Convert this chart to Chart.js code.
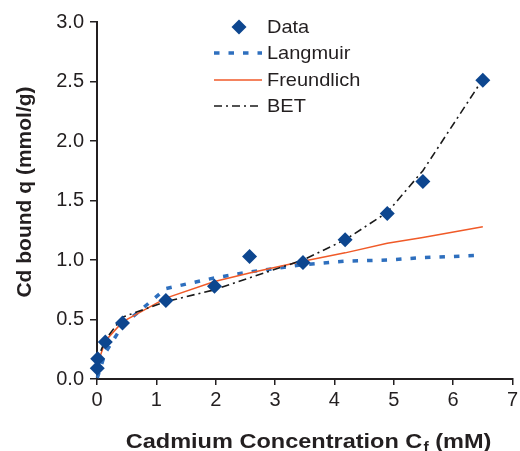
<!DOCTYPE html>
<html>
<head>
<meta charset="utf-8">
<script src="https://cdn.jsdelivr.net/npm/chart.js@4.4.1/dist/chart.umd.min.js"></script>
<style>
  html, body { margin: 0; padding: 0; background: #fff; }
  #wrap { width: 520px; height: 451px; position: relative; }
</style>
</head>
<body>
<div id="wrap"><canvas id="chart"></canvas></div>
<script>
// concentration Cf (mM) for each measured point
const concentracion = [0.004, 0.012, 0.14, 0.43, 1.16, 1.98, 2.57, 3.47, 4.18, 4.89, 5.49, 6.5];
// measured Cd bound q (mmol/g)
const qMedido = [0.09, 0.17, 0.31, 0.47, 0.66, 0.78, 1.03, 0.98, 1.17, 1.39, 1.66, 2.51];
// fitted model curves at the same concentrations
const qLangmuir = [0.01, 0.02, 0.22, 0.45, 0.76, 0.85, 0.90, 0.96, 0.99, 1.00, 1.02, 1.04];
const qFreundlich = [0.08, 0.13, 0.32, 0.48, 0.68, 0.82, 0.89, 0.99, 1.06, 1.14, 1.19, 1.28];
const qBET = [0.09, 0.17, 0.33, 0.52, 0.65, 0.75, 0.85, 1.0, 1.17, 1.40, 1.75, 2.52];

const xTicks = [0, 1, 2, 3, 4, 5, 6, 7];
const yTicks = [0, 0.5, 1.0, 1.5, 2.0, 2.5, 3.0];

const inkColor = '#231f20';

function toPoints(xs, ys) {
    return xs.map((x, i) => ({ x: x, y: ys[i] }));
}

// legend inside the plot, drawn from the dataset styles
const legendInside = {
    id: 'legendInside',
    afterDraw(chart) {
        const ctx = chart.ctx;
        const x0 = 214, x1 = 262, tx = 267;
        const rows = [27, 53, 80, 106];
        ctx.save();
        chart.data.datasets.forEach((ds, i) => {
            const y = rows[i];
            if (ds.showLine === false) {
                const r = 7.5;
                ctx.fillStyle = ds.backgroundColor;
                ctx.beginPath();
                ctx.moveTo(239, y - r);
                ctx.lineTo(239 + r, y);
                ctx.lineTo(239, y + r);
                ctx.lineTo(239 - r, y);
                ctx.closePath();
                ctx.fill();
            } else {
                ctx.strokeStyle = ds.borderColor;
                ctx.lineWidth = ds.borderWidth;
                ctx.setLineDash(ds.borderDash || []);
                ctx.beginPath();
                ctx.moveTo(x0, y);
                ctx.lineTo(x1, y);
                ctx.stroke();
                ctx.setLineDash([]);
            }
            ctx.fillStyle = inkColor;
            ctx.font = '18.5px "Liberation Sans", Arial, sans-serif';
            ctx.textBaseline = 'middle';
            ctx.textAlign = 'left';
            ctx.save();
            ctx.translate(tx, y);
            ctx.scale(1.08, 1);
            ctx.fillText(ds.label, 0, 1);
            ctx.restore();
        });
        ctx.restore();
    }
};

// axis titles (x title needs a subscript f)
const axisTitles = {
    id: 'axisTitles',
    afterDraw(chart) {
        const ctx = chart.ctx;
        ctx.save();
        ctx.fillStyle = inkColor;
        ctx.textBaseline = 'alphabetic';
        ctx.textAlign = 'left';

        const big = 'bold 21px "Liberation Sans", Arial, sans-serif';
        const small = 'bold 14px "Liberation Sans", Arial, sans-serif';
        const partA = 'Cadmium Concentration C';
        const partB = 'f';
        const partC = ' (mM)';
        ctx.font = big;
        const wA = ctx.measureText(partA).width;
        const wC = ctx.measureText(partC).width;
        ctx.font = small;
        const wB = ctx.measureText(partB).width;
        const sx = 1.12;
        const total = (wA + wB + wC) * sx;
        ctx.translate(308 - total / 2, 448);
        ctx.scale(sx, 1);
        ctx.font = big;
        ctx.fillText(partA, 0, 0);
        ctx.font = small;
        ctx.fillText(partB, wA + 1, 4);
        ctx.font = big;
        ctx.fillText(partC, wA + wB + 1, 0);
        ctx.restore();

        ctx.save();
        ctx.fillStyle = inkColor;
        ctx.font = big;
        ctx.textAlign = 'center';
        ctx.textBaseline = 'middle';
        ctx.translate(25, 192);
        ctx.rotate(-Math.PI / 2);
        ctx.fillText('Cd bound q (mmol/g)', 0, 0);
        ctx.restore();
    }
};

function start() {
    const canvas = document.getElementById('chart');
    const lineaBase = { showLine: true, pointRadius: 0, pointHoverRadius: 0, fill: false, tension: 0, clip: false };

    const data = {
        datasets: [
            {
                label: 'Data',
                data: toPoints(concentracion, qMedido),
                showLine: false,
                pointStyle: 'rectRot',
                pointRadius: 7.5,
                pointBorderWidth: 0,
                backgroundColor: '#0d468f',
                borderColor: '#0d468f',
                clip: false,
                order: 0
            },
            Object.assign({}, lineaBase, {
                label: 'Langmuir',
                data: toPoints(concentracion, qLangmuir),
                borderColor: '#2e6fbe',
                borderWidth: 3.5,
                borderDash: [5.5, 9],
                order: 3
            }),
            Object.assign({}, lineaBase, {
                label: 'Freundlich',
                data: toPoints(concentracion, qFreundlich),
                borderColor: '#f05a28',
                borderWidth: 1.5,
                order: 2
            }),
            Object.assign({}, lineaBase, {
                label: 'BET',
                data: toPoints(concentracion, qBET),
                borderColor: '#1a1a1a',
                borderWidth: 1.6,
                borderDash: [8, 4, 2, 4],
                order: 1
            })
        ]
    };

    const tickFont = { family: '"Liberation Sans", Arial, sans-serif', size: 20 };

    const config = {
        type: 'scatter',
        data,
        options: {
            responsive: false,
            animation: false,
            layout: { padding: { top: 22, right: 2, left: 0, bottom: 0 } },
            plugins: {
                legend: { display: false },
                tooltip: { enabled: false }
            },
            scales: {
                x: {
                    type: 'linear',
                    min: 0,
                    max: 7,
                    afterBuildTicks: (scale) => { scale.ticks = xTicks.map(v => ({ value: v })); },
                    ticks: { color: inkColor, font: tickFont, padding: 3, maxRotation: 0 },
                    grid: { display: true, drawOnChartArea: false, drawTicks: true, tickLength: 6, color: inkColor, lineWidth: 1.5 },
                    border: { color: inkColor, width: 2 },
                    afterFit: (scale) => {
                        scale.height = 72;
                        scale.paddingLeft = 0;
                        scale.paddingRight = 0;
                    }
                },
                y: {
                    type: 'linear',
                    min: 0,
                    max: 3,
                    afterBuildTicks: (scale) => { scale.ticks = yTicks.map(v => ({ value: v })); },
                    ticks: { color: inkColor, font: tickFont, padding: 6, callback: (v) => Number(v).toFixed(1) },
                    grid: { display: true, drawOnChartArea: false, drawTicks: true, tickLength: 7, color: inkColor, lineWidth: 1.5 },
                    border: { color: inkColor, width: 2 },
                    afterFit: (scale) => {
                        scale.width = 97;
                        scale.paddingTop = 0;
                        scale.paddingBottom = 0;
                    }
                }
            }
        },
        plugins: [legendInside, axisTitles]
    };

    canvas.width = 520;
    canvas.height = 451;
    new Chart(canvas, config);
}

start();
</script>
</body>
</html>
